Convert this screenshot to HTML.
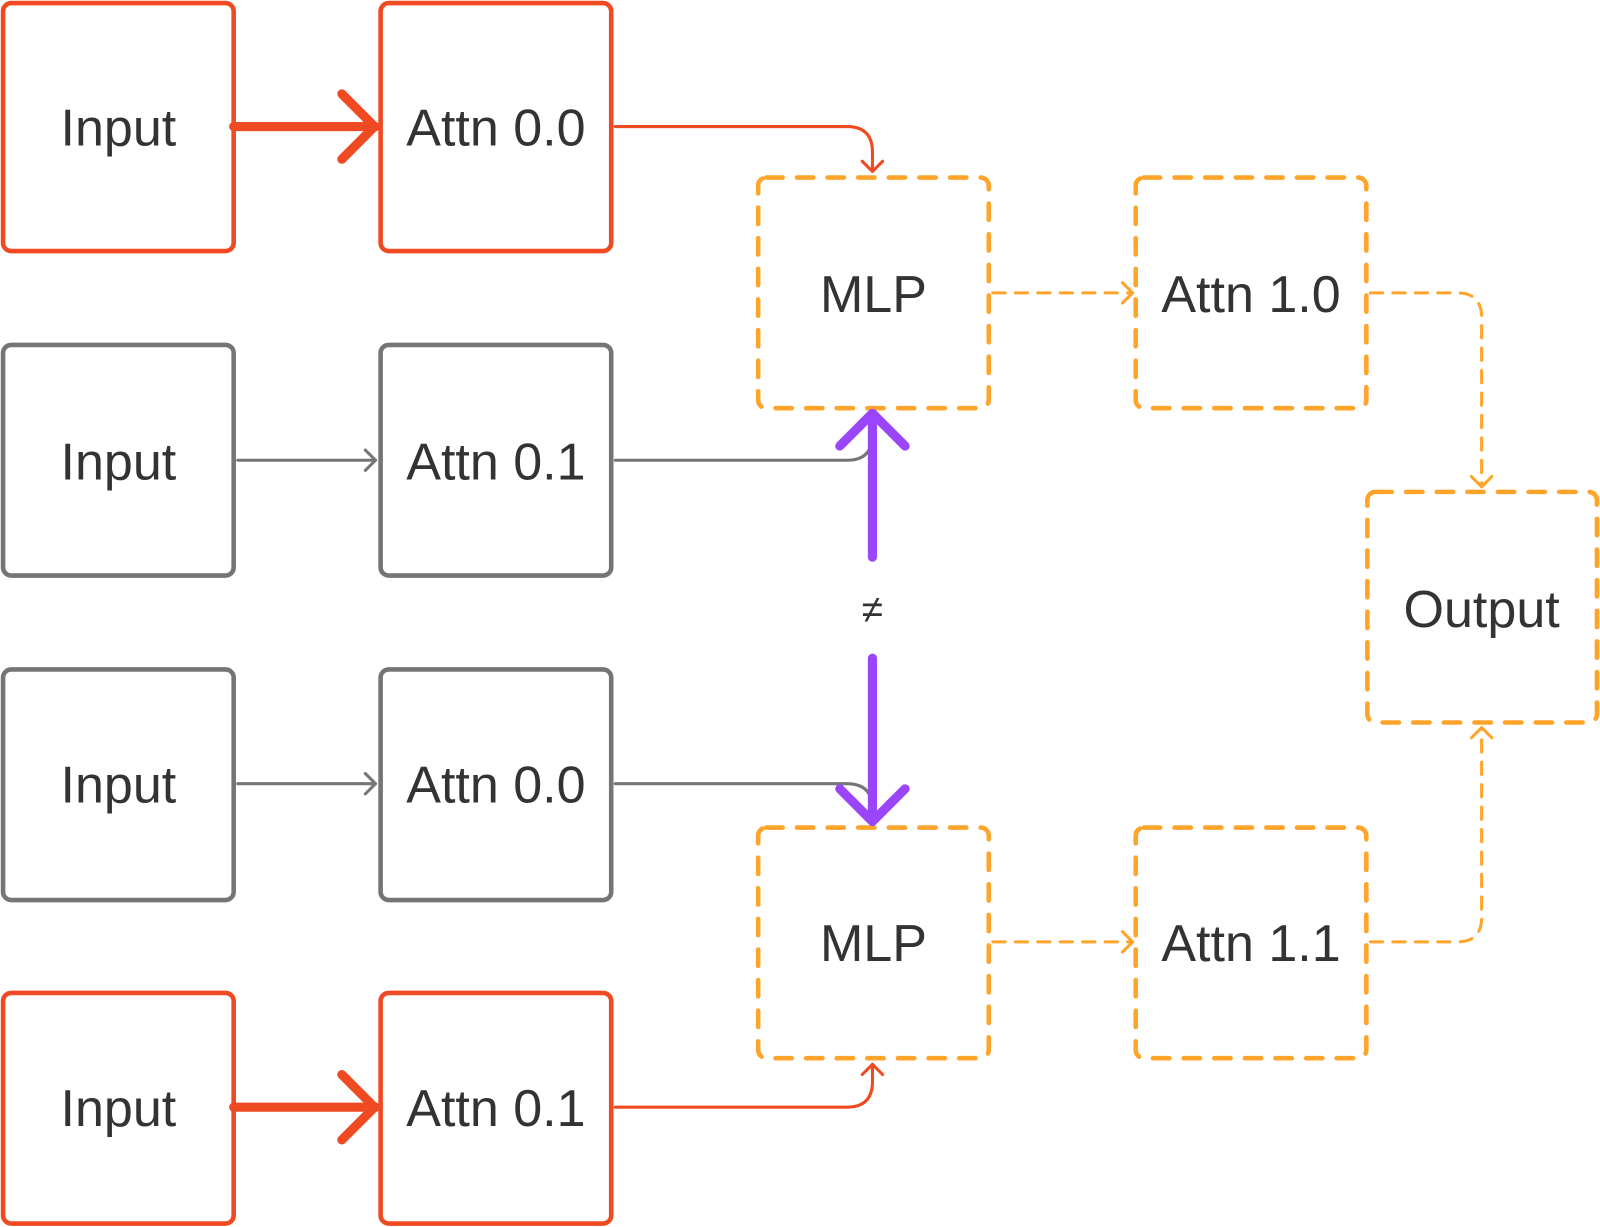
<!DOCTYPE html>
<html><head><meta charset="utf-8"><style>
html,body{margin:0;padding:0;background:#fff;width:1600px;height:1227px;overflow:hidden}
svg{display:block}
text{font-family:"Liberation Sans",sans-serif;font-size:51px;fill:#333;text-anchor:middle;dominant-baseline:central}
</style></head><body>
<svg width="1600" height="1227" viewBox="0 0 1568 1202.4" preserveAspectRatio="none" xmlns="http://www.w3.org/2000/svg">
<g fill="none" stroke-linecap="round" stroke-linejoin="round">
<!-- boxes -->
<g stroke="#f04a23" stroke-width="4.5">
<rect x="3" y="3" width="226" height="243" rx="8"/>
<rect x="373" y="3" width="226" height="243" rx="8"/>
<rect x="3" y="973" width="226" height="226" rx="8"/>
<rect x="373" y="973" width="226" height="226" rx="8"/>
</g>
<g stroke="#757575" stroke-width="4.5">
<rect x="3" y="338" width="226" height="226" rx="8"/>
<rect x="373" y="338" width="226" height="226" rx="8"/>
<rect x="3" y="656" width="226" height="226" rx="8"/>
<rect x="373" y="656" width="226" height="226" rx="8"/>
</g>
<g stroke="#ffa42a" stroke-width="4.5" stroke-dasharray="16 14">
<rect x="743" y="174" width="226" height="226" rx="8"/>
<rect x="1113" y="174" width="226" height="226" rx="8"/>
<rect x="743" y="811" width="226" height="226" rx="8"/>
<rect x="1113" y="811" width="226" height="226" rx="8"/>
<rect x="1340" y="482" width="225" height="226" rx="8"/>
</g>
<!-- red arrows -->
<g stroke="#f04a23">
<path d="M229 124H368" stroke-width="9"/>
<path d="M335 92L367 124L335 156" stroke-width="9"/>
<path d="M229 1085H368" stroke-width="9"/>
<path d="M335 1053L367 1085L335 1117" stroke-width="9"/>
<path d="M603 124H830Q855 124 855 149V168" stroke-width="3"/>
<path d="M845 158L855 168L865 158" stroke-width="3"/>
<path d="M603 1085H830Q855 1085 855 1060V1043" stroke-width="3"/>
<path d="M845 1053L855 1043L865 1053" stroke-width="3"/>
</g>
<!-- gray -->
<g stroke="#757575" stroke-width="3">
<path d="M233 451H368"/><path d="M358 441L368 451L358 461"/>
<path d="M233 768H368"/><path d="M358 758L368 768L358 778"/>
<path d="M603 451H830Q855 451 855 426"/>
<path d="M603 768H830Q855 768 855 793"/>
</g>
<!-- purple -->
<g stroke="#9b45fb" stroke-width="9">
<path d="M855 546V407"/><path d="M823 437L855 405L887 437"/>
<path d="M855 645V803"/><path d="M823 773L855 805L887 773"/>
</g>
<!-- orange connectors -->
<g stroke="#ffa42a" stroke-width="3">
<path d="M973 287H1108" stroke-dasharray="12 10"/><path d="M1100 277L1110 287L1100 297"/>
<path d="M973 923H1108" stroke-dasharray="12 10"/><path d="M1100 913L1110 923L1100 933"/>
<path d="M1343 287H1428Q1452 287 1452 311V476" stroke-dasharray="12 10"/><path d="M1442 467L1452 477L1462 467"/>
<path d="M1343 923H1428Q1452 923 1452 899V714" stroke-dasharray="12 10"/><path d="M1442 723L1452 713L1462 723"/>
</g>
</g>
<text x="116" y="126">Input</text>
<text x="486" y="126">Attn 0.0</text>
<text x="116" y="453">Input</text>
<text x="486" y="453">Attn 0.1</text>
<text x="116" y="770">Input</text>
<text x="486" y="770">Attn 0.0</text>
<text x="116" y="1087">Input</text>
<text x="486" y="1087">Attn 0.1</text>
<text x="856" y="289">MLP</text>
<text x="1226" y="289">Attn 1.0</text>
<text x="856" y="925">MLP</text>
<text x="1226" y="925">Attn 1.1</text>
<text x="1452" y="598">Output</text>
<text x="855" y="598" style="font-size:38px">≠</text>
</svg>
</body></html>
